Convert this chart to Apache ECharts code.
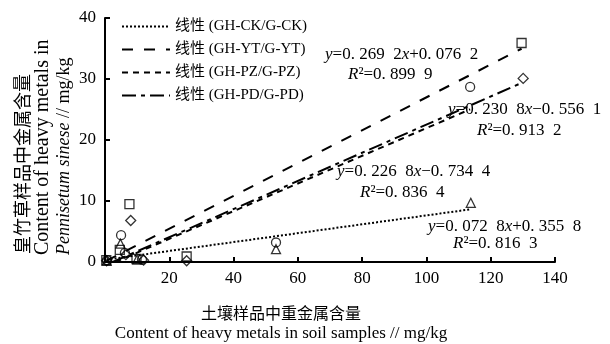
<!DOCTYPE html>
<html>
<head>
<meta charset="utf-8">
<script src="https://cdn.jsdelivr.net/npm/echarts@6/dist/echarts.min.js"></script>
<style>
html, body { margin: 0; padding: 0; background: #fff; }
#main { width: 610px; height: 344px; }
</style>
</head>
<body>
<div id="main"></div>
<script>
// 散点数据 [土壤, 皇竹草]
var ckPoints = [[0.5, 0.2], [4.8, 3.0], [10.0, 0.4], [53.2, 2.1], [113.8, 9.7]];
var ytPoints = [[0.4, 0.3], [4.6, 2.0], [7.6, 9.5], [9.8, 0.5], [25.4, 0.9], [129.6, 35.9]];
var pzPoints = [[0.6, 0.3], [5.0, 4.4], [6.2, 1.5], [11.5, 0.4], [53.2, 3.2], [113.6, 28.7]];
var pdPoints = [[0.5, 0.2], [6.5, 1.2], [8.0, 6.8], [12.0, 0.3], [25.4, 0.2], [130.1, 30.1]];

// 趋势线两端
var ckFit = [[0.5, 0.39], [113.8, 8.64]];
var ytFit = [[0.4, 0.18], [129.6, 34.96]];
var pzFit = [[3.24, 0], [113.6, 25.03]];
var pdFit = [[2.41, 0], [130.1, 29.47]];

var legendNames = ['线性 (GH-CK/G-CK)', '线性 (GH-YT/G-YT)', '线性 (GH-PZ/G-PZ)', '线性 (GH-PD/G-PD)'];
var xTicks = [0, 140, 20];
var yTicks = [0, 40, 10];

var serif = "'Liberation Serif', 'Noto Sans CJK SC', serif";
var chart = echarts.init(document.getElementById('main'));

function scatter(data, symbol, size) {
  return {
    type: 'scatter',
    data: data,
    symbol: symbol,
    symbolSize: size,
    itemStyle: { color: 'rgba(255,255,255,0)', borderColor: '#000', borderWidth: 1.3 },
    z: 5
  };
}
function fit(name, data, dash, width) {
  return {
    name: name,
    type: 'line',
    data: data,
    symbol: 'none',
    itemStyle: { color: 'rgba(0,0,0,0)', borderWidth: 0 }, // 图例里不显示圆点
    lineStyle: { color: '#000', width: width, type: dash },
    animation: false
  };
}
function eqText(x, y, txt) {
  return {
    type: 'text',
    left: x,
    top: y - 9,
    style: {
      text: txt,
      font: '17px ' + serif,
      fill: '#000',
      rich: { i: { fontStyle: 'italic', fontSize: 17, fontFamily: serif } }
    }
  };
}

chart.setOption({
  backgroundColor: '#fff',
  animation: false,
  grid: { left: 105, right: 55, top: 18, bottom: 82 },
  legend: {
    orient: 'vertical',
    left: 116,
    top: 14,
    itemWidth: 48,
    itemHeight: 14,
    itemGap: 8,
    data: legendNames,
    textStyle: { fontFamily: serif, fontSize: 15, color: '#000', lineHeight: 15 }
  },
  xAxis: {
    type: 'value',
    min: xTicks[0], max: xTicks[1], interval: xTicks[2],
    splitLine: { show: false },
    axisLine: { onZero: false, lineStyle: { color: '#000', width: 2 } },
    axisTick: { inside: true, length: 5, lineStyle: { color: '#000', width: 2 } },
    axisLabel: { showMinLabel: false, color: '#000', fontFamily: serif, fontSize: 17, margin: 8 }
  },
  yAxis: {
    type: 'value',
    min: yTicks[0], max: yTicks[1], interval: yTicks[2],
    splitLine: { show: false },
    axisLine: { show: true, lineStyle: { color: '#000', width: 2 } },
    axisTick: { show: true, inside: true, length: 5, lineStyle: { color: '#000', width: 2 } },
    axisLabel: { color: '#000', fontFamily: serif, fontSize: 17, margin: 9 }
  },
  graphic: [
    // y 轴标题
    { type: 'text', x: 22, y: 254, rotation: Math.PI / 2,
      style: { text: '皇竹草样品中金属含量', font: "18px 'Noto Sans CJK SC'", fill: '#000', textAlign: 'left', textVerticalAlign: 'middle' } },
    { type: 'text', x: 43, y: 255, rotation: Math.PI / 2,
      style: { text: 'Content of heavy metals in', font: '20px ' + serif, fill: '#000', textAlign: 'left', textVerticalAlign: 'middle' } },
    { type: 'text', x: 64, y: 255, rotation: Math.PI / 2,
      style: { text: '{i|Pennisetum sinese} // mg/kg', font: '18px ' + serif, fill: '#000', textAlign: 'left', textVerticalAlign: 'middle',
        rich: { i: { fontStyle: 'italic', fontSize: 18, fontFamily: serif } } } },
    // x 轴标题
    { type: 'text', x: 281, y: 313,
      style: { text: '土壤样品中重金属含量', font: "16px 'Noto Sans CJK SC'", fill: '#000', textAlign: 'center', textVerticalAlign: 'middle' } },
    { type: 'text', x: 281, y: 334,
      style: { text: 'Content of heavy metals in soil samples // mg/kg', font: '17px ' + serif, fill: '#000', textAlign: 'center', textVerticalAlign: 'middle' } },
    // 回归方程
    eqText(325, 55, '{i|y}=0. 269  2{i|x}+0. 076  2'),
    eqText(348, 75, '{i|R}²=0. 899  9'),
    eqText(448, 110, '{i|y}=0. 230  8{i|x}\u22120. 556  1'),
    eqText(477, 131, '{i|R}²=0. 913  2'),
    eqText(337, 172, '{i|y}=0. 226  8{i|x}\u22120. 734  4'),
    eqText(360, 193, '{i|R}²=0. 836  4'),
    eqText(428, 227, '{i|y}=0. 072  8{i|x}+0. 355  8'),
    eqText(453, 244, '{i|R}²=0. 816  3')
  ],
  series: [
    fit(legendNames[0], ckFit, [2, 2], 2),
    fit(legendNames[1], ytFit, [11, 11], 2),
    fit(legendNames[2], pzFit, [6, 5], 2),
    fit(legendNames[3], pdFit, [14, 5, 4, 5], 2),
    scatter(ckPoints, 'triangle', 9),
    scatter(ytPoints, 'rect', 9),
    scatter(pzPoints, 'circle', 9),
    scatter(pdPoints, 'diamond', 10)
  ]
});
</script>
</body>
</html>
